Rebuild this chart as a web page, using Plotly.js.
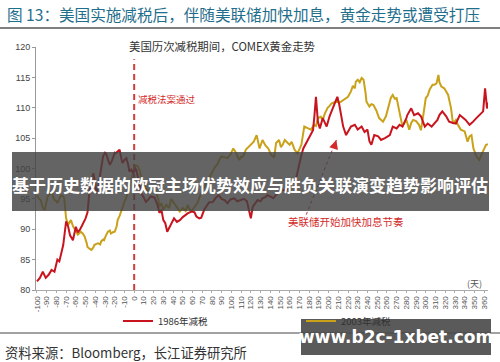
<!DOCTYPE html>
<html><head><meta charset="utf-8">
<script src="https://cdn.plot.ly/plotly-3.0.1.min.js"></script>
<style>html,body{margin:0;padding:0;background:#fff;}#chart{width:500px;height:362px;}</style>
</head><body><div id="chart"></div>
<script>
// ---- data ----
const series86Name = '1986年减税';
const series03Name = '2003年减税';
const red86Days = [-100,-97,-94,-91,-88,-85,-82,-79,-77,-75,-73,-71,-70,-68,-66,-63,-61,-60,-58,-56,-54,-52,-50,-48,-46,-44,-42,-40,-39,-37,-36,-34,-32,-30,-29,-27,-25,-23,-22,-20,-19,-17,-15,-13,-12,-10,-8,-6,-5,-3,-1,1,2,4,7,10,12,14,17,21,24,26,28,30,32,34,36,38,41,44,47,50,55,59,62,64,67,69,72,74,77,81,84,87,90,93,96,99,103,106,110,113,116,119,120,122,125,127,130,132,135,137,140,143,146,148,151,153,156,159,163,165,167,170,172,174,177,180,182,184,185.5,187,189,191,194,196,198,201,204,207,209,211,213,215,218,220,223,227,230,234,237,240,242,244,247,251,254,258,261,263,266,270,273,276,280,281,285,288,292,295,299,302,306,309,312,314,317,321,324,328,331,335,338,341,345,348,352,355,359,361,363,365];
const red86Vals = [81.4,82.0,83.0,82.0,82.5,83.3,83.0,85.0,84.7,86.0,87.4,90.0,91.3,90.5,89.0,88.2,89.5,90.4,89.5,89.9,90.5,91.2,91.8,92.8,96.2,98.0,99.2,97.5,95.9,97.0,98.1,100.5,102.0,102.6,102.5,101.5,100.6,101.2,101.7,102.6,102.5,102.8,103.1,101.5,100.9,101.4,101.7,100.5,99.5,99.8,99.2,100.0,99.8,98.5,96.0,95.2,94.5,94.8,95.4,95.2,94.0,92.7,93.2,91.5,91.0,89.6,90.2,90.7,91.8,91.2,91.5,92.0,92.6,92.9,92.8,92.1,91.8,91.9,93.2,93.7,94.4,94.5,95.2,95.6,95.0,94.8,94.3,94.9,95.1,94.6,94.8,95.0,94.6,92.8,91.8,93.7,94.4,94.8,94.6,95.1,95.3,95.6,95.4,95.1,95.7,95.9,96.3,96.5,96.2,97.0,97.6,98.0,98.7,101.0,102.2,103.3,104.2,105.3,105.8,106.3,108.8,111.8,107.7,106.6,108.3,107.5,106.9,108.6,109.9,111.0,111.8,110.5,108.3,106.9,105.5,106.0,106.9,107.2,106.4,106.9,106.0,106.4,104.5,103.9,105.5,105.3,104.7,105.0,105.3,105.5,106.9,106.6,107.2,106.9,108.3,108.8,109.9,108.8,109.1,108.6,106.9,107.4,106.9,107.5,108.0,108.8,109.4,108.6,107.7,107.5,107.4,108.8,108.4,108.0,107.2,107.6,108.3,108.8,109.4,113.2,109.9,111.0];
const gold03Days = [-100,-98,-96,-94,-92,-90,-89,-87,-85,-83,-82,-80,-79,-77,-75,-73,-72,-70,-68,-66,-65,-63,-61,-59,-58,-56,-55,-53,-51,-49,-48,-46,-44,-42,-41,-39,-37,-35,-34,-32,-31,-29,-27,-25,-24,-22,-20,-18,-17,-15,-13,-11,-10,-8,-6,-4,-3,-1,0,2,4,6,7,10,12,14,16,19,21,23,25,26,28,30,33,36,38,40,43,47,50,53,55,57,59,62,65,69,72,74,76,79,81,83,86,88,90,93,96,99,102,105,108,110,112,115,118,120,123,126,129,132,135,138,141,144,146,149,151,153,155,158,160,162,165,168,170,172,175,177,179,182,185,187,189,192,194,196,199,201,203,206,209,211,213,216,220,223,225,227,228,230,232,234,236,238,239,242,244,246,249,252,254,256,259,261,263,264,266,268,270,273,276,278,280,283,285,287,290,293,295,297,300,302,304,307,309,311,313,314,316,319,321,323,326,328,331,333,336,340,343,345,347,349,352,355,357,359,362,364];
const gold03Vals = [95.6,95.0,94.8,93.5,93.2,94.5,95.4,95.8,96.2,95.2,94.8,94.6,94.3,95.0,95.6,95.4,95.1,91.8,90.7,91.3,91.5,90.5,89.9,89.3,89.1,89.4,89.6,89.3,88.8,87.8,87.1,86.8,86.6,87.0,87.4,87.6,87.7,87.5,88.0,88.3,88.2,89.0,89.6,89.8,89.3,89.5,89.6,90.5,91.5,92.2,93.2,93.8,94.5,95.3,96.2,97.3,98.1,99.2,100.0,100.5,100.3,99.5,98.7,97.5,96.7,96.4,96.2,96.7,96.3,95.9,94.8,93.7,94.3,93.2,94.0,93.5,95.0,94.5,93.7,92.9,93.5,93.0,94.0,93.3,93.0,93.6,94.3,96.0,96.8,97.5,98.1,99.0,99.6,100.2,100.8,101.6,102.0,101.8,101.7,102.3,103.3,102.5,101.4,101.9,102.0,103.1,103.6,103.9,104.4,105.5,103.3,104.7,103.8,103.3,102.2,101.8,104.2,104.7,103.5,104.0,104.7,104.2,103.9,104.4,103.1,102.5,103.2,103.9,106.9,106.7,106.6,106.4,107.2,107.0,108.3,108.5,108.0,109.0,110.0,110.3,110.7,110.9,111.0,110.8,111.0,111.4,111.8,112.7,113.6,113.2,114.3,114.6,114.2,114.9,114.6,112.5,111.0,110.2,110.6,110.5,109.6,108.3,108.0,107.7,108.6,109.9,111.0,111.6,112.1,111.5,111.6,109.4,106.9,107.5,108.0,106.4,107.5,108.0,107.8,107.2,106.3,108.3,111.6,112.0,113.0,113.8,113.8,114.0,115.4,114.2,113.5,113.2,112.6,112.1,109.9,107.4,108.0,107.2,106.4,106.1,104.4,105.3,105.5,103.3,102.0,101.4,102.2,102.8,103.9,104.0];
const xTickDays = [-100,-90,-80,-70,-60,-50,-40,-30,-20,-10,0,10,20,30,40,50,60,70,80,90,100,110,120,130,140,150,160,170,180,190,200,210,220,230,240,250,260,270,280,290,300,310,320,330,340,350,360];
const yTickVals = [80,85,90,95,100,105,110,115,120];
const taxEventDays = [0, 0];
const taxEventVals = [80, 118];
const fedArrowDays = [177, 208];
const fedArrowVals = [92.4, 104.7];

const headerText = '图 13：美国实施减税后，伴随美联储加快加息，黄金走势或遭受打压';
const subTitle = '美国历次减税期间，COMEX黄金走势';
const taxLabel = '减税法案通过';
const fedLabel = '美联储开始加快加息节奏';
const unitLabel = '(天)';
const sourceText = '资料来源：Bloomberg，长江证券研究所';
const bannerText = '基于历史数据的欧冠主场优势效应与胜负关联演变趋势影响评估';
const watermarkText = 'www.b2c-1xbet.com';

// ---- layout helpers ----
const W = 500, H = 362, L = 36, R = 12, T = 47, B = 72;
const pw = W - L - R, ph = H - T - B;
const px = x => (x - L) / pw;
const py = y => (H - B - y) / ph;
const FONT = '"Liberation Sans", "Noto Sans CJK SC", sans-serif';
const CJK = '"Noto Sans CJK SC", "Liberation Sans", sans-serif';
const RED = '#c8141e', GOLD = '#c9a21a', EVT = '#d23c3c';

const traces = [
  {x: gold03Days, y: gold03Vals, type: 'scatter', mode: 'lines', name: series03Name,
   line: {color: GOLD, width: 2}, legend: 'legend2'},
  {x: red86Days, y: red86Vals, type: 'scatter', mode: 'lines', name: series86Name,
   line: {color: RED, width: 2}, legend: 'legend'},
  {x: taxEventDays, y: taxEventVals, type: 'scatter', mode: 'lines', showlegend: false,
   line: {color: EVT, width: 2, dash: '6px,4px'}, hoverinfo: 'skip'},
  {x: fedArrowDays, y: fedArrowVals, type: 'scatter', mode: 'lines', showlegend: false,
   line: {color: '#b83a3a', width: 1, dash: '3px,3px'}, hoverinfo: 'skip'}
];

const legendBase = {orientation: 'h', xanchor: 'left', yanchor: 'middle', itemwidth: 30,
  font: {family: CJK, size: 9.5, color: '#333'}, bgcolor: 'rgba(0,0,0,0)', borderwidth: 0,
  xref: 'paper', yref: 'paper'};

const layout = {
  width: W, height: H,
  margin: {l: L, r: R, t: T, b: B},
  paper_bgcolor: '#fff', plot_bgcolor: '#fff',
  font: {family: FONT, color: '#333', size: 9},
  showlegend: true,
  legend: Object.assign({}, legendBase, {x: px(118), y: py(321)}),
  legend2: Object.assign({}, legendBase, {x: px(301), y: py(321)}),
  xaxis: {range: [-101, 364], tickvals: xTickDays, ticktext: xTickDays.map(String),
    tickangle: -90, tickfont: {size: 8, color: '#555'}, showgrid: false, zeroline: false,
    showline: true, linecolor: '#aaa', linewidth: 1, ticks: 'outside', ticklen: 2, tickcolor: '#aaa'},
  yaxis: {range: [80, 120], tickvals: yTickVals, tickfont: {size: 9, color: '#444'},
    showgrid: false, zeroline: false, showline: true, linecolor: '#999', linewidth: 1,
    ticks: 'outside', ticklen: 3, tickcolor: '#999'},
  shapes: [
    {type: 'line', xref: 'paper', yref: 'paper', x0: px(0), x1: px(500), y0: py(28), y1: py(28),
     line: {color: '#555', width: 1.5}},
    {type: 'line', xref: 'paper', yref: 'paper', x0: px(0), x1: px(500), y0: py(333), y1: py(333),
     line: {color: '#444', width: 1.2}},
    {type: 'rect', xref: 'paper', yref: 'paper', x0: px(12), x1: px(489), y0: py(211), y1: py(152),
     fillcolor: 'rgba(66,66,66,0.82)', line: {width: 0}, layer: 'above'},
    {type: 'rect', xref: 'paper', yref: 'paper', x0: px(301), x1: px(491), y0: py(355), y1: py(319),
     fillcolor: 'rgba(72,72,72,0.9)', line: {width: 0}, layer: 'above'}
  ],
  annotations: [
    {xref: 'paper', yref: 'paper', x: px(5), y: py(14), xanchor: 'left', yanchor: 'middle', showarrow: false,
     text: headerText, font: {family: CJK, size: 15.6, color: '#1f6e8c'}},
    {xref: 'paper', yref: 'paper', x: px(127), y: py(46), xanchor: 'left', yanchor: 'middle', showarrow: false,
     text: subTitle, font: {family: CJK, size: 11.4, color: '#333'}},
    {xref: 'x', yref: 'y', x: 2, y: 111.5, xanchor: 'left', yanchor: 'middle', showarrow: false,
     text: taxLabel, font: {family: CJK, size: 9.5, color: '#d42a2a'}},
    {xref: 'x', yref: 'y', x: 218, y: 91.2, xanchor: 'center', yanchor: 'middle', showarrow: false,
     text: fedLabel, font: {family: CJK, size: 10.5, color: '#d42a2a'}},
    {xref: 'x', yref: 'y', x: fedArrowDays[1], y: fedArrowVals[1], ax: 205, ay: 103.2, axref: 'x', ayref: 'y',
     showarrow: true, arrowhead: 2, arrowsize: 1.2, arrowwidth: 1.5, arrowcolor: '#d42a2a', text: ''},
    {xref: 'paper', yref: 'paper', x: px(474), y: py(283), xanchor: 'center', yanchor: 'middle', showarrow: false,
     text: unitLabel, font: {family: CJK, size: 9, color: '#555'}},
    {xref: 'paper', yref: 'paper', x: px(3), y: py(352), xanchor: 'left', yanchor: 'middle', showarrow: false,
     text: sourceText, font: {family: CJK, size: 13.3, color: '#333'}},
    {xref: 'paper', yref: 'paper', x: px(250), y: py(184), xanchor: 'center', yanchor: 'middle', showarrow: false,
     text: bannerText, font: {family: CJK, size: 17, color: '#fff', weight: 'bold'}},
    {xref: 'paper', yref: 'paper', x: px(396), y: py(337), xanchor: 'center', yanchor: 'middle', showarrow: false,
     text: watermarkText, font: {family: '"DejaVu Sans", "Liberation Sans", sans-serif', size: 17, color: '#fff', weight: 'bold'}}
  ]
};

Plotly.newPlot('chart', traces, layout, {staticPlot: true, displayModeBar: false});
</script></body></html>
